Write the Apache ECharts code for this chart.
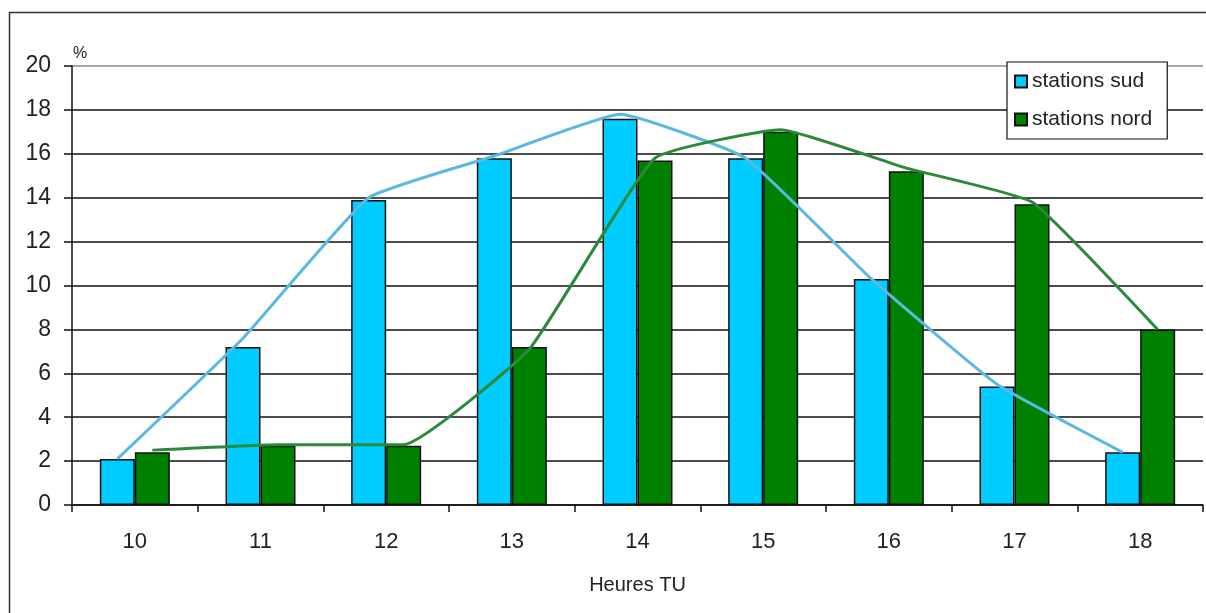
<!DOCTYPE html>
<html>
<head>
<meta charset="utf-8">
<script src="https://cdn.jsdelivr.net/npm/echarts@6/dist/echarts.min.js"></script>
<style>
html,body{margin:0;padding:0;background:#fff;}
#c{width:1206px;height:613px;}
</style>
</head>
<body>
<div id="c"></div>
<script>
var categories = ['10','11','12','13','14','15','16','17','18'];
var sudBars  = [2.1, 7.2, 13.9, 15.8, 17.6, 15.8, 10.3, 5.4, 2.4];
var nordBars = [2.4, 2.7, 2.7, 7.2, 15.7, 17.0, 15.2, 13.7, 8.0];
var sudLine  = [2.1, 7.6, 14.0, 15.9, 17.8, 15.8, 10.3, 5.5, 2.4];
var nordLine = [2.5, 2.75, 2.75, 7.1, 15.8, 17.1, 15.35, 13.8, 8.0];
var yTicks = [0,2,4,6,8,10,12,14,16,18,20];

var W = 1206, gridLeft = 72, gridRight = 3, gridTop = 66, gridBottom = 108;
var barW = 35;
var catPx = (W - gridLeft - gridRight) / categories.length;
var off = (barW / 2) / catPx;

function linePts(vals, sign) {
  return vals.map(function (v, i) { return [i + 0.5 + sign * off, v]; });
}

var font = '"Liberation Sans", Arial, sans-serif';
var chart = echarts.init(document.getElementById('c'), null, {renderer: 'canvas'});
var splitColors = yTicks.map(function (t, i) { return i === yTicks.length - 1 ? '#8a8a8a' : '#111'; });

chart.setOption({
  animation: false,
  backgroundColor: '#fff',
  grid: {left: gridLeft, right: gridRight, top: gridTop, bottom: gridBottom, containLabel: false},
  graphic: [{
    type: 'rect', z: -10, silent: true,
    shape: {x: 9.5, y: 12.5, width: 1400, height: 800},
    style: {fill: 'none', stroke: '#333', lineWidth: 1.5}
  }],
  legend: {
    orient: 'vertical',
    left: 1007, top: 62,
    data: ['stations sud', 'stations nord'],
    icon: 'rect',
    itemWidth: 12, itemHeight: 12,
    itemGap: 17,
    padding: [9, 15, 9, 7],
    backgroundColor: '#fff',
    borderColor: '#111', borderWidth: 1.2,
    textStyle: {fontFamily: font, fontSize: 21, color: '#222'}
  },
  xAxis: [{
    type: 'category',
    data: categories,
    name: 'Heures TU',
    nameLocation: 'middle',
    nameGap: 70,
    nameTextStyle: {fontFamily: font, fontSize: 20, color: '#222'},
    axisLine: {lineStyle: {color: '#111', width: 1.5}},
    axisTick: {show: true, length: 7, lineStyle: {color: '#111', width: 1.5}},
    axisLabel: {fontFamily: font, fontSize: 22, color: '#222', margin: 26},
    splitLine: {show: false}
  }, {
    type: 'value', min: 0, max: categories.length, show: false
  }],
  yAxis: {
    type: 'value',
    min: 0, max: 20, interval: 2,
    name: '%',
    nameLocation: 'end',
    nameGap: 4,
    nameTextStyle: {fontFamily: font, fontSize: 16, color: '#222', align: 'left', padding: [0, 0, 0, 1]},
    axisLine: {show: true, lineStyle: {color: '#111', width: 1.5}},
    axisTick: {show: true, length: 8, lineStyle: {color: '#111', width: 1.5}},
    axisLabel: {fontFamily: font, fontSize: 23, color: '#222', margin: 21},
    splitLine: {show: true, lineStyle: {color: splitColors, width: 1.5}}
  },
  series: [{
    name: 'stations sud', type: 'bar', data: sudBars,
    barWidth: barW, barGap: '0%',
    itemStyle: {color: '#00CCFF', borderColor: '#111', borderWidth: 1.5},
    z: 2
  }, {
    name: 'stations nord', type: 'bar', data: nordBars,
    barWidth: barW, barGap: '0%',
    itemStyle: {color: '#008000', borderColor: '#111', borderWidth: 1.5},
    z: 2
  }, {
    name: 'courbe sud', type: 'line', xAxisIndex: 1,
    data: linePts(sudLine, -1), smooth: 0.12,
    showSymbol: false, symbol: 'none',
    lineStyle: {color: '#5AB9E0', width: 3},
    z: 5
  }, {
    name: 'courbe nord', type: 'line', xAxisIndex: 1,
    data: linePts(nordLine, 1), smooth: 0.12,
    showSymbol: false, symbol: 'none',
    lineStyle: {color: '#2A8A3A', width: 3},
    z: 5
  }]
});
</script>
</body>
</html>
